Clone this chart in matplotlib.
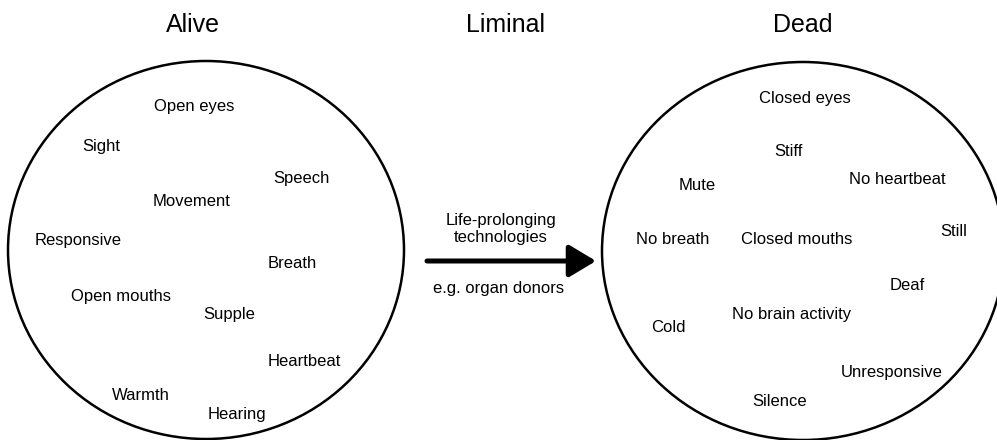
import matplotlib
matplotlib.use('Agg')

import matplotlib.pyplot as plt
from matplotlib.patches import Ellipse

plt.rcParams['font.family'] = ['Liberation Sans', 'DejaVu Sans']

# Column headings
titles = ['Alive', 'Liminal', 'Dead']
title_x = [193, 505, 803]

# Words inside the "Alive" circle and where they sit (pixels)
alive_words = ['Open eyes', 'Sight', 'Speech', 'Movement', 'Responsive', 'Breath',
               'Open mouths', 'Supple', 'Heartbeat', 'Warmth', 'Hearing']
alive_x = [194, 101, 301, 192, 78, 292, 121, 229, 304, 141, 237]
alive_y = [106, 146, 179, 202, 240, 263, 297, 315, 362, 395, 415]

# Words inside the "Dead" circle
dead_words = ['Closed eyes', 'Stiff', 'No heartbeat', 'Mute', 'Still', 'No breath',
              'Closed mouths', 'Deaf', 'No brain activity', 'Cold', 'Unresponsive', 'Silence']
dead_x = [805, 788, 897, 697, 954, 673, 797, 907, 792, 668, 892, 780]
dead_y = [99, 152, 179, 186, 232, 240, 240, 286, 315, 327, 372, 401]

# Arrow captions
arrow_top = 'Life-prolonging\ntechnologies'
arrow_bottom = 'e.g. organ donors'

fig = plt.figure(figsize=(9.97, 4.4), dpi=100)
ax = fig.add_axes([0, 0, 1, 1])
ax.set_xlim(0, 997)
ax.set_ylim(440, 0)
ax.axis('off')

# Circles
ax.add_patch(Ellipse((206, 250), 396, 378, fill=False, lw=1.8, ec='black'))
ax.add_patch(Ellipse((803, 251), 402, 378, fill=False, lw=1.8, ec='black'))

# Headings
for t, x in zip(titles, title_x):
    ax.text(x, 25, t, ha='center', va='center', fontsize=18)

for w, x, y in zip(alive_words, alive_x, alive_y):
    ax.text(x, y, w, ha='center', va='center', fontsize=12)

for w, x, y in zip(dead_words, dead_x, dead_y):
    ax.text(x, y, w, ha='center', va='center', fontsize=12)

# Arrow between the two states
ax.annotate('', xy=(596, 261), xytext=(427, 261),
            arrowprops=dict(arrowstyle='-|>,head_length=0.55,head_width=0.33',
                            lw=3.6, color='black', mutation_scale=30,
                            shrinkA=0, shrinkB=0))
ax.text(501, 229, arrow_top, ha='center', va='center', fontsize=12, linespacing=1.1)
ax.text(499, 288, arrow_bottom, ha='center', va='center', fontsize=12)

fig.savefig('out.png', dpi=100)
